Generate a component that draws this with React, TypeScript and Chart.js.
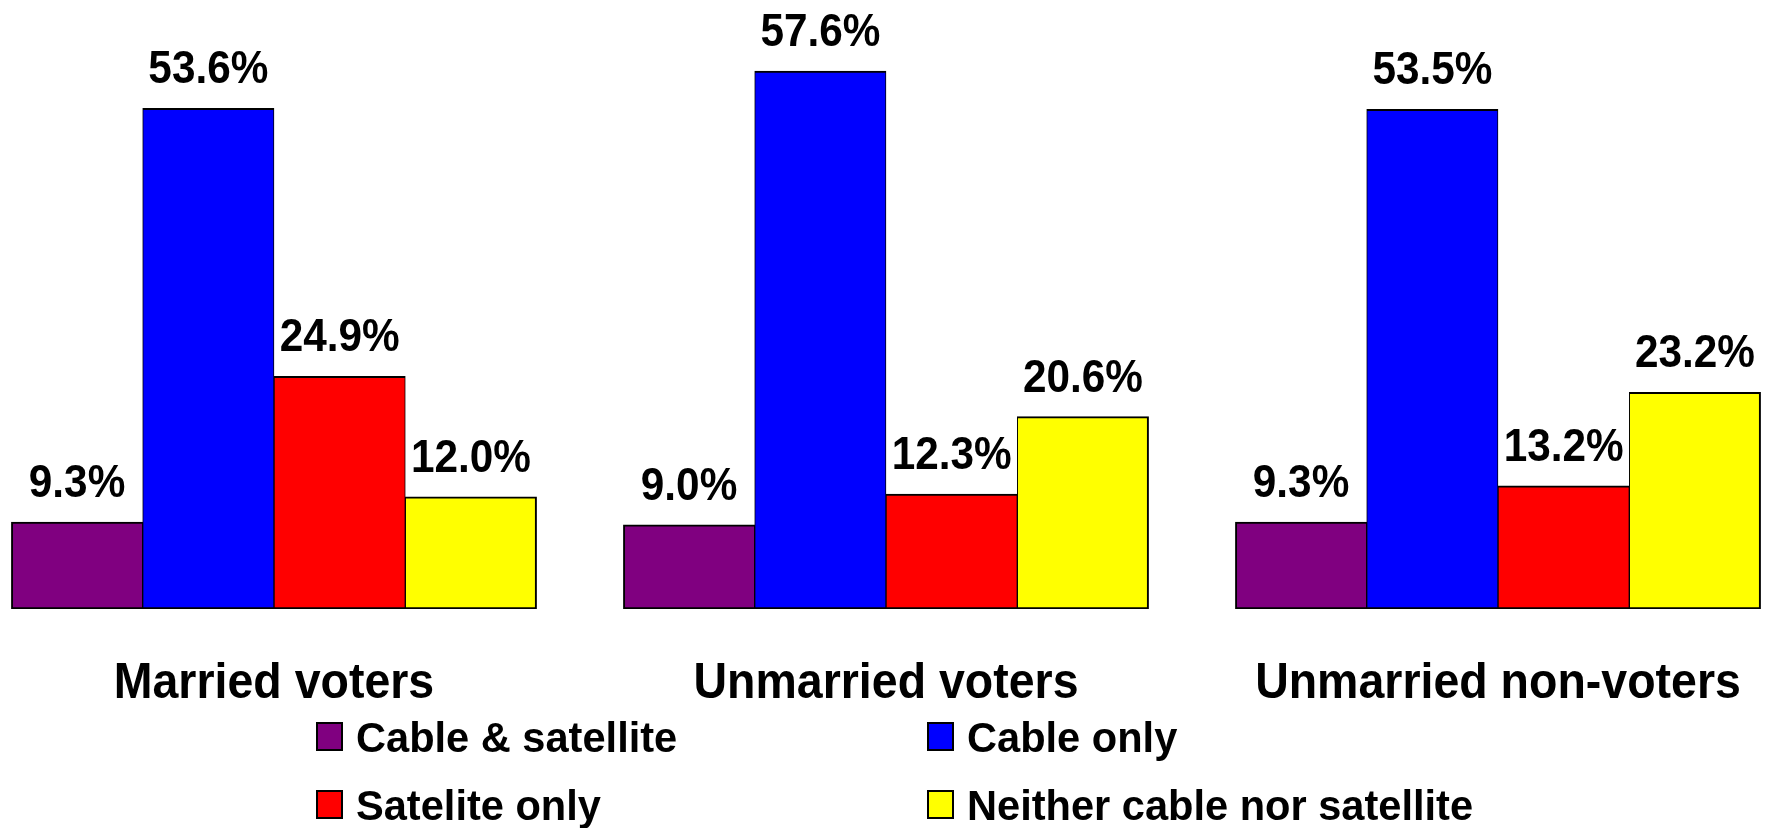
import React, { useEffect, useRef } from "react";
import { Chart, registerables } from "chart.js";

Chart.register(...registerables);

const categories = ["Married voters", "Unmarried voters", "Unmarried non-voters"];
const seriesLabels = ["Cable & satellite", "Cable only", "Satelite only", "Neither cable nor satellite"];
const cableAndSatellite = [9.3, 9.0, 9.3];
const cableOnly = [53.6, 57.6, 53.5];
const sateliteOnly = [24.9, 12.3, 13.2];
const neitherCableNorSatellite = [12.0, 20.6, 23.2];
const seriesColors = ["#800080", "#0000FF", "#FF0000", "#FFFF00"];

const seriesValues = [cableAndSatellite, cableOnly, sateliteOnly, neitherCableNorSatellite];
const FONT = "'Liberation Sans', Arial, sans-serif";

function drawScaledText(ctx: CanvasRenderingContext2D, text: string, x: number, y: number, size: number, sx: number, align: CanvasTextAlign) {
  ctx.save();
  ctx.translate(x, y);
  ctx.scale(sx, 1);
  ctx.font = `bold ${size}px ${FONT}`;
  ctx.fillStyle = "#000";
  ctx.textAlign = align;
  ctx.textBaseline = "alphabetic";
  ctx.fillText(text, 0, 0);
  ctx.restore();
}

const textPlugin = {
  id: "textPlugin",
  afterDatasetsDraw(chart: any) {
    const ctx: CanvasRenderingContext2D = chart.ctx;
    // value labels
    chart.data.datasets.forEach((ds: any, i: number) => {
      const meta = chart.getDatasetMeta(i);
      meta.data.forEach((el: any, j: number) => {
        const v = seriesValues[i][j];
        drawScaledText(ctx, v.toFixed(1) + "%", el.x, el.y - 25, 47, 0.9, "center");
      });
    });
    // category labels
    const xs = chart.scales.x;
    categories.forEach((c, j) => {
      drawScaledText(ctx, c, xs.getPixelForValue(j), 698, 50, 0.93, "center");
    });
    // legend
    const colX = [316, 927];
    const rowY = [722, 790];
    seriesLabels.forEach((lab, i) => {
      const bx = colX[i % 2];
      const by = rowY[Math.floor(i / 2)];
      ctx.save();
      ctx.fillStyle = seriesColors[i];
      ctx.fillRect(bx, by, 27, 29);
      ctx.strokeStyle = "#000";
      ctx.lineWidth = 2;
      ctx.strokeRect(bx + 1, by + 1, 25, 27);
      ctx.restore();
      drawScaledText(ctx, lab, bx + 40, by + 29.5, 42, 0.99, "left");
    });
  },
};

export default function App() {
  const ref = useRef<HTMLCanvasElement | null>(null);
  useEffect(() => {
    if (!ref.current) return;
    const n = seriesValues.length;
    const chart = new Chart(ref.current, {
      type: "bar",
      data: {
        datasets: seriesValues.map((vals, i) => ({
          label: seriesLabels[i],
          data: vals.map((v, j) => ({ x: j, y: v })),
          backgroundColor: seriesColors[i],
          borderColor: "#000",
          borderWidth: { top: 2, bottom: 2, left: i === 0 ? 2 : 1, right: i === n - 1 ? 2 : 1 },
          borderSkipped: false,
          barThickness: 131.3,
        })),
      },
      options: {
        animation: false,
        responsive: false,
        devicePixelRatio: 1,
        events: [],
        layout: { padding: { left: 0, right: 0, top: 48.6, bottom: 219 } },
        plugins: { legend: { display: false }, tooltip: { enabled: false }, title: { display: false } },
        scales: {
          x: {
            type: "linear",
            display: false,
            offset: false,
            min: -0.4477,
            max: 2.4428,
            ticks: { stepSize: 1, includeBounds: false },
            grid: { display: false, offset: false },
          },
          y: {
            display: false,
            min: 0,
            max: 60,
            grid: { display: false },
          },
        },
      },
      plugins: [textPlugin],
    } as any);
    return () => chart.destroy();
  }, []);
  return (
    <div style={{ position: "absolute", left: 0, top: 0, width: 1769, height: 828, background: "#fff" }}>
      <canvas ref={ref} width={1769} height={828} style={{ display: "block" }} />
    </div>
  );
}
